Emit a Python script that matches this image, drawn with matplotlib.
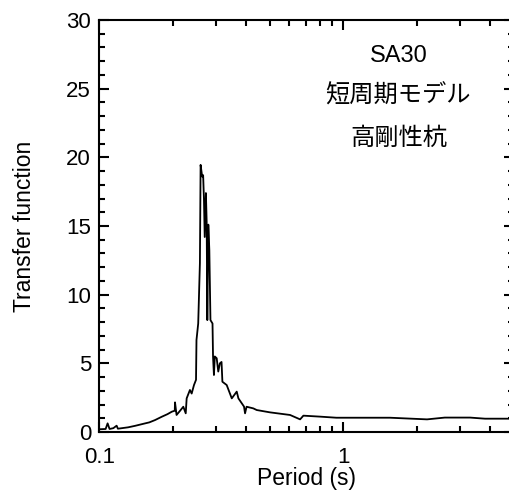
import numpy as np
import matplotlib.pyplot as plt
from matplotlib.ticker import MultipleLocator, FixedLocator, NullFormatter

plt.rcParams['font.family'] = ['Liberation Sans', 'DejaVu Sans']

# transfer function (period in s)
period = [0.100, 0.106, 0.108, 0.110, 0.114, 0.1176, 0.119, 0.131, 0.140, 0.154,
          0.160, 0.169, 0.180, 0.190, 0.198, 0.2035, 0.204, 0.207, 0.214, 0.2206,
          0.2257, 0.2277, 0.2348, 0.2387, 0.244, 0.2487, 0.2498, 0.2539, 0.258, 0.2597,
          0.2636, 0.266, 0.268, 0.270, 0.273, 0.275, 0.2767, 0.2793, 0.282, 0.285,
          0.2906, 0.292, 0.2945, 0.297, 0.3023, 0.3068, 0.3115, 0.3164, 0.319, 0.3322,
          0.3485, 0.3652, 0.371, 0.3912, 0.395, 0.4007, 0.427, 0.441, 0.500, 0.604,
          0.664, 0.685, 0.800, 0.935, 1.55, 2.2, 2.6, 3.3, 3.8, 5.0]
transfer = [0.20, 0.22, 0.63, 0.22, 0.28, 0.46, 0.24, 0.34, 0.45, 0.63,
            0.70, 0.87, 1.11, 1.30, 1.48, 1.55, 2.16, 1.24, 1.55, 1.84,
            1.36, 2.45, 3.06, 2.80, 3.42, 3.80, 6.70, 7.90, 12.3, 19.45,
            18.6, 18.7, 17.0, 14.2, 17.4, 15.3, 8.15, 15.1, 13.25, 8.15,
            7.90, 5.50, 4.15, 5.50, 5.37, 4.40, 5.00, 5.10, 3.66, 3.42,
            2.45, 2.94, 2.45, 1.85, 1.36, 1.84, 1.72, 1.60, 1.43, 1.24,
            0.92, 1.19, 1.12, 1.04, 1.04, 0.92, 1.05, 1.05, 0.97, 0.97]

labels = ['SA30', '短周期モデル', '高剛性杭']

fig = plt.figure(figsize=(5.1, 4.94), dpi=100)
ax = fig.add_axes([0.195, 0.1255, 0.813, 0.834])

ax.plot(period, transfer, color='black', linewidth=1.3)

ax.set_xscale('log')
ax.set_xlim(0.1, 5)
ax.set_ylim(0, 30)

ax.xaxis.set_major_locator(FixedLocator([0.1, 1]))
ax.xaxis.set_minor_locator(FixedLocator([0.2, 0.3, 0.4, 0.5, 0.6, 0.7, 0.8, 0.9, 2, 3, 4]))
ax.xaxis.set_minor_formatter(NullFormatter())
ax.set_xticklabels(['0.1', '1'])
ax.yaxis.set_major_locator(MultipleLocator(5))
ax.yaxis.set_minor_locator(MultipleLocator(1))

ax.tick_params(which='both', direction='in', top=True, right=True, width=1.5,
               labelsize=16)
ax.tick_params(axis='y', pad=6)
ax.tick_params(axis='x', pad=11)
ax.tick_params(which='major', length=7.5)
ax.tick_params(which='minor', length=4.5)
for s in ax.spines.values():
    s.set_linewidth(1.5)

ax.set_xlabel('Period (s)', fontsize=16.5, labelpad=-1)
ax.set_ylabel('Transfer function', fontsize=16.5, labelpad=22)

ax.text(0.721, 0.913, labels[0], transform=ax.transAxes, ha='center', va='center',
        fontsize=17, family=['Liberation Sans Narrow', 'Liberation Sans'])
ax.text(0.721, 0.816, labels[1], transform=ax.transAxes, ha='center', va='center',
        fontsize=17.5, family=['Noto Sans CJK JP', 'DejaVu Sans'])
ax.text(0.721, 0.714, labels[2], transform=ax.transAxes, ha='center', va='center',
        fontsize=17.5, family=['Noto Sans CJK JP', 'DejaVu Sans'])

fig.savefig('out.png', dpi=100)
